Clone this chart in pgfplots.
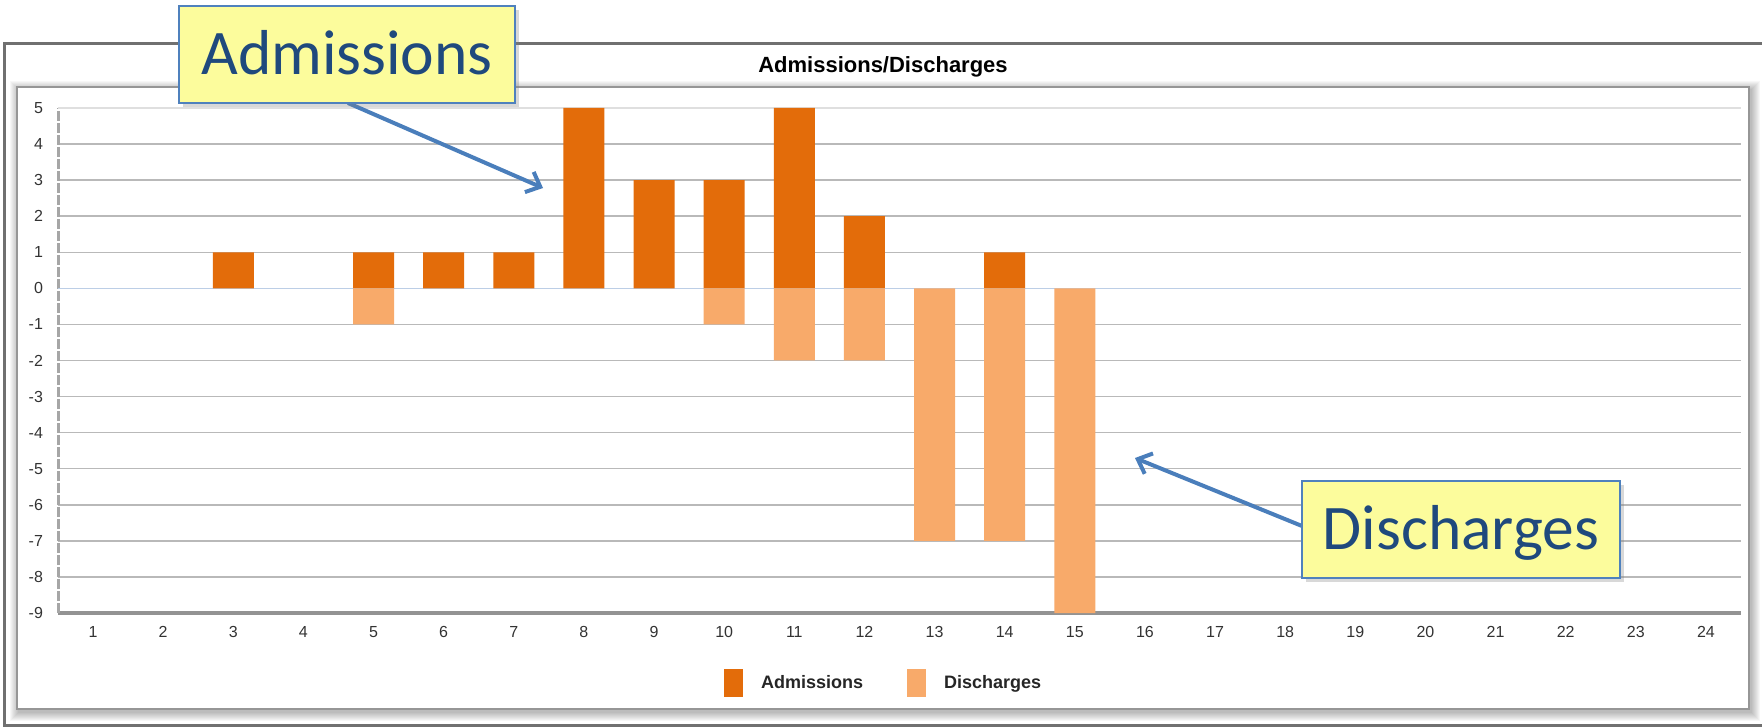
\documentclass[border=0pt]{standalone}
\usepackage{fontspec}
\setmainfont{Liberation Sans}
\newfontfamily\calibri{Carlito}
\usepackage{pgfplots}
\pgfplotsset{compat=1.18}
\usetikzlibrary{arrows.meta,shadows}

\definecolor{adm}{RGB}{227,108,10}
\definecolor{dis}{RGB}{248,170,106}
\definecolor{gridc}{RGB}{185,185,185}
\definecolor{zeroc}{RGB}{188,206,230}
\definecolor{arrowc}{RGB}{74,126,187}
\definecolor{boxfill}{RGB}{252,252,156}
\definecolor{boxdraw}{RGB}{79,129,189}
\definecolor{textblue}{RGB}{31,73,125}
\definecolor{framec}{RGB}{112,112,112}
\definecolor{panelc}{RGB}{150,150,150}

\begin{document}
\begin{tikzpicture}
\begin{scope}[x=0.5pt,y=-0.5pt]
\useasboundingbox (0,0) rectangle (1762,727);
\fill[white] (0,0) rectangle (1762,727);
\draw[line width=1.5pt, framec] (4,44) rectangle (1800,725);
% soft shadow of panel
\foreach \k in {1,...,9} {
  \fill[black, opacity=0.03] (17-\k+2, 87-\k+3) rectangle (1749+\k+2, 709+\k+3);
}
\draw[fill=white, draw=panelc, line width=0.75pt] (17,87) rectangle (1749,709);
\node[font=\bfseries\fontsize{11}{13}\selectfont] at (883,67) {Admissions/Discharges};
\end{scope}

\begin{axis}[
  at={(29pt,-306.5pt)}, anchor=south west,
  scale only axis, width=841.5pt, height=252.5pt,
  xmin=0.5, xmax=24.5, ymin=-9, ymax=5,
  xtick={1,...,24}, ytick={-9,...,5},
  axis x line*=bottom, axis y line*=left,
  axis line style={-},
  x axis line style={-, line width=1.6pt, color=gray!85},
  y axis line style={-, line width=1.5pt, color=gray!70, dash pattern=on 5pt off 1pt},
  major tick length=0pt,
  ymajorgrids, grid style={line width=0.75pt, color=gridc},
  tick label style={font=\fontsize{8}{9.5}\selectfont, color=black!80},
  /pgf/number format/assume math mode=true,
  yticklabel style={xshift=-4pt},
  xticklabel style={yshift=-3pt},
  ybar, bar width=0.586,
  legend style={at={(0.49,-0.139)}, anchor=center, draw=none, fill=none,
    font=\bfseries\fontsize{9}{11}\selectfont, legend columns=2,
    /tikz/every odd column/.append style={column sep=9pt},
    /tikz/every even column/.append style={column sep=22pt},
    nodes={inner sep=0pt, text=black!85}},
  legend image code/.code={\fill[#1] (0pt,-7pt) rectangle (9.5pt,7pt);},
]
\draw[color=gray!25, line width=0.75pt] (axis cs:0.5,5) -- (axis cs:24.5,5);
\draw[color=zeroc, line width=0.6pt] (axis cs:0.5,0) -- (axis cs:24.5,0);
\addplot[fill=adm, draw=none, bar shift=0pt] coordinates {(3,1) (5,1) (6,1) (7,1) (8,5) (9,3) (10,3) (11,5) (12,2) (14,1)};
\addplot[fill=dis, draw=none, bar shift=0pt] coordinates {(5,-1) (10,-1) (11,-2) (12,-2) (13,-7) (14,-7) (15,-9)};
\legend{Admissions, Discharges}
\end{axis}

\begin{scope}[x=0.5pt,y=-0.5pt]
\draw[arrowc, line width=2pt, -{Straight Barb[length=6pt,width=11pt]}] (348,103) -- (543,188);
\node[draw=boxdraw, line width=0.75pt, fill=boxfill, minimum width=168pt, minimum height=48.5pt,
  font=\calibri\fontsize{31.75}{36}\selectfont, text=textblue, text height=20.4pt, text depth=0pt,
  drop shadow={shadow xshift=2pt, shadow yshift=-2pt, opacity=0.3}] at (347,54.5) {Admissions};
\draw[arrowc, line width=2pt, -{Straight Barb[length=6pt,width=11pt]}] (1302,526) -- (1135,458);
\node[draw=boxdraw, line width=0.75pt, fill=boxfill, minimum width=159pt, minimum height=48.5pt,
  font=\calibri\fontsize{31.75}{36}\selectfont, text=textblue, text height=20.4pt, text depth=0pt,
  drop shadow={shadow xshift=2pt, shadow yshift=-2pt, opacity=0.3}] at (1461,529.5) {Discharges};
\end{scope}
\end{tikzpicture}
\end{document}
